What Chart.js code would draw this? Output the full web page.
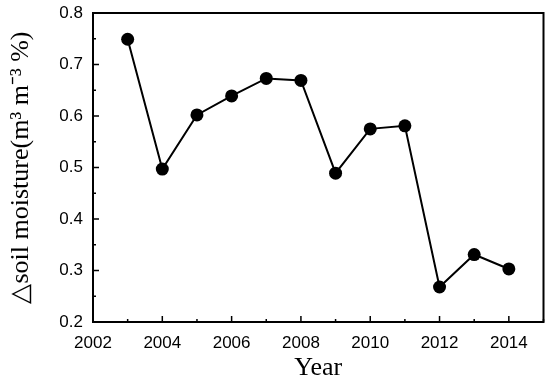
<!DOCTYPE html>
<html>
<head>
<meta charset="utf-8">
<script src="https://cdn.jsdelivr.net/npm/chart.js@4"></script>
<style>
  html, body { margin: 0; padding: 0; background: #fff; }
  #wrap { width: 550px; height: 384px; }
</style>
</head>
<body>
<div id="wrap"><canvas id="moistChart" width="550" height="384"></canvas></div>
<script>
// Data
const years = [2003, 2004, 2005, 2006, 2007, 2008, 2009, 2010, 2011, 2012, 2013, 2014];
const moisture = [0.749, 0.497, 0.602, 0.639, 0.673, 0.669, 0.489, 0.575, 0.581, 0.268, 0.331, 0.303];
const xTicks = [2002, 2004, 2006, 2008, 2010, 2012, 2014];
const yTicks = [0.2, 0.3, 0.4, 0.5, 0.6, 0.7, 0.8];

// Frame plus inward major/minor ticks (Origin style)
const framePlugin = {
    id: 'frame',
    afterDraw(chart) {
        const { ctx, chartArea: a, scales } = chart;
        ctx.save();
        ctx.strokeStyle = '#000';
        ctx.lineWidth = 2;
        ctx.strokeRect(a.left, a.top, a.right - a.left, a.bottom - a.top);
        ctx.lineWidth = 1.5;
        ctx.beginPath();
        for (let v = 2002; v <= 2015; v++) {
            const x = scales.x.getPixelForValue(v);
            const len = (v % 2 === 0) ? 6 : 3;
            ctx.moveTo(x, a.bottom);
            ctx.lineTo(x, a.bottom - len);
        }
        for (let i = 0; i <= 12; i++) {
            const v = 0.2 + i * 0.05;
            const y = scales.y.getPixelForValue(v);
            const len = (i % 2 === 0) ? 6 : 3;
            ctx.moveTo(a.left, y);
            ctx.lineTo(a.left + len, y);
        }
        ctx.stroke();
        ctx.restore();
    }
};

const ctx = document.getElementById('moistChart').getContext('2d');
const chart = new Chart(ctx, {
    type: 'line',
    data: {
        datasets: [{
            data: years.map((y, i) => ({ x: y, y: moisture[i] })),
            borderColor: '#000',
            backgroundColor: '#000',
            borderWidth: 2,
            pointRadius: 6.5,
            pointBackgroundColor: '#000',
            pointBorderWidth: 0,
            tension: 0
        }]
    },
    options: {
        responsive: false,
        animation: false,
        layout: { padding: { top: 13, right: 6, left: 0, bottom: 0 } },
        plugins: { legend: { display: false }, tooltip: { enabled: false } },
        scales: {
            x: {
                type: 'linear',
                min: 2002,
                max: 2015,
                afterBuildTicks: (s) => { s.ticks = xTicks.map(v => ({ value: v })); },
                afterFit: (s) => { s.height = 62; s.paddingLeft = 0; s.paddingRight = 0; },
                grid: { display: false, drawTicks: false },
                border: { display: false },
                ticks: {
                    color: '#000',
                    padding: 11,
                    maxRotation: 0,
                    font: { family: 'Liberation Sans', size: 17 },
                    callback: (v) => String(v)
                },
                title: {
                    display: true,
                    text: 'Year',
                    color: '#000',
                    padding: { top: 4, bottom: 0 },
                    font: { family: 'Liberation Serif', size: 26 }
                }
            },
            y: {
                type: 'linear',
                min: 0.2,
                max: 0.8,
                afterBuildTicks: (s) => { s.ticks = yTicks.map(v => ({ value: v })); },
                afterFit: (s) => { s.width = 93; s.paddingTop = 0; s.paddingBottom = 0; },
                grid: { display: false, drawTicks: false },
                border: { display: false },
                ticks: {
                    color: '#000',
                    padding: 10,
                    font: { family: 'Liberation Sans', size: 17 },
                    callback: (v) => v.toFixed(1)
                },
                title: {
                    display: true,
                    text: '\u25B3soil moisture(m\u00B3 m\u207B\u00B3 %)',
                    color: '#000',
                    padding: { top: 6, bottom: 0 },
                    font: { family: 'Liberation Serif', size: 26 }
                }
            }
        }
    },
    plugins: [framePlugin]
});
</script>
</body>
</html>
